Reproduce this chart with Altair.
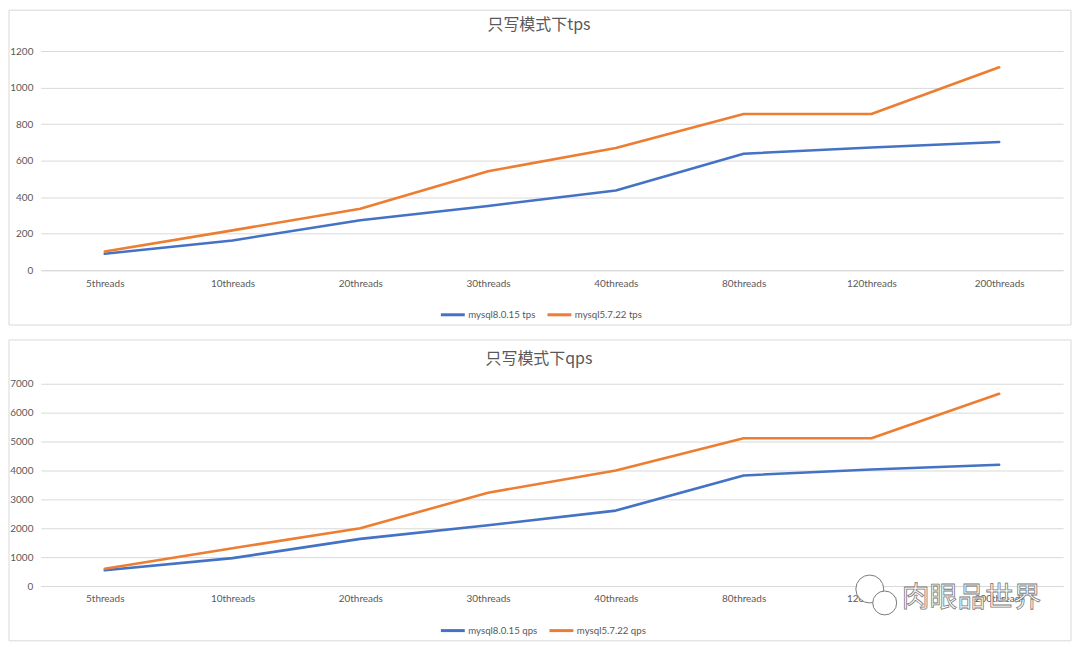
import altair as alt
import pandas as pd

categories = ["5threads", "10threads", "20threads", "30threads",
              "40threads", "80threads", "120threads", "200threads"]
tps_80 = [90, 163, 274, 352, 436, 638, 672, 702]
tps_57 = [102, 218, 336, 542, 669, 855, 855, 1111]
qps_80 = [545, 966, 1631, 2103, 2610, 3828, 4034, 4196]
qps_57 = [597, 1310, 2000, 3231, 4000, 5114, 5114, 6655]
tps_names = ["mysql8.0.15 tps", "mysql5.7.22 tps"]
qps_names = ["mysql8.0.15 qps", "mysql5.7.22 qps"]
titles = ["只写模式下tps", "只写模式下qps"]
colors = ["#4472C4", "#ED7D31"]
watermark = "肉眼品世界"

LABEL_FONT = "Lato"
CJK = "Noto Sans CJK SC"
GRAY = "#595959"
GRID = "#d9d9d9"
W = 1026


def long_df(names, a, b):
    rows = []
    for name, vals in zip(names, [a, b]):
        for c, v in zip(categories, vals):
            rows.append({"cat": c, "val": v, "series": name})
    return pd.DataFrame(rows)


def panel(df, names, title, ymax, step, h, fy0, fy1, ly, ty, extras=()):
    frame = alt.Chart(alt.Data(values=[{}])).mark_rect(
        fill="white", fillOpacity=0, stroke=GRID, strokeWidth=1
    ).encode(x=alt.value(-32), x2=alt.value(1034), y=alt.value(fy0), y2=alt.value(fy1))

    lines = alt.Chart(df).mark_line(strokeWidth=2.6, strokeCap="round", strokeJoin="round").encode(
        x=alt.X("cat:O", sort=categories,
                scale=alt.Scale(type="point", padding=0.5),
                axis=alt.Axis(title=None, labelAngle=0, ticks=False, domainColor=GRID,
                              labelPadding=8, grid=False)),
        y=alt.Y("val:Q", scale=alt.Scale(domain=[0, ymax], nice=False),
                axis=alt.Axis(title=None, values=list(range(0, ymax + 1, step)), format="d",
                              domain=False, ticks=False, gridColor=GRID, labelPadding=8)),
        color=alt.Color("series:N", sort=names,
                        scale=alt.Scale(domain=names, range=colors),
                        legend=alt.Legend(title=None, orient="none", legendX=400, legendY=ly,
                                          direction="horizontal", symbolType="stroke",
                                          symbolSize=576, symbolStrokeWidth=3,
                                          columnPadding=5, labelOffset=2)),
    )

    ttl = alt.Chart(alt.Data(values=[{"t": title}])).mark_text(
        fontSize=16, color=GRAY, font=CJK, baseline="middle", align="center"
    ).encode(text="t:N", x=alt.value(500), y=alt.value(ty))

    return alt.layer(frame, lines, ttl, *extras).properties(width=W, height=h)


top = panel(long_df(tps_names, tps_80, tps_57), tps_names, titles[0],
            1200, 200, 220, -41, 275, 251, -26)

bubble1 = alt.Chart(alt.Data(values=[{}])).mark_point(
    shape="circle", filled=True, fill="white", stroke="#7a7a7a", strokeWidth=1, opacity=1
).encode(x=alt.value(832), y=alt.value(206), size=alt.value(784))
bubble2 = alt.Chart(alt.Data(values=[{}])).mark_point(
    shape="circle", filled=True, fill="white", stroke="#7a7a7a", strokeWidth=1, opacity=1
).encode(x=alt.value(847), y=alt.value(220), size=alt.value(576))
wm = alt.Chart(alt.Data(values=[{"t": watermark}])).mark_text(
    fontSize=28, font=CJK, fill="white", stroke="#7a7a7a", strokeWidth=0.8,
    baseline="middle", align="center"
).encode(text="t:N", x=alt.value(934), y=alt.value(216))

bottom = panel(long_df(qps_names, qps_80, qps_57), qps_names, titles[1],
               7000, 1000, 203, -44, 258, 234, -25, extras=(bubble1, bubble2, wm))

chart = alt.vconcat(top, bottom, spacing=13).resolve_scale(
    color="independent", y="independent"
).resolve_legend(color="independent").properties(
    padding=0, background="white"
).configure_view(stroke=None).configure_axis(
    labelFont=LABEL_FONT, labelColor=GRAY, labelFontSize=10
).configure_legend(
    labelFont=LABEL_FONT, labelColor=GRAY, labelFontSize=9.7
)

chart.save("out.html", embed_options={"renderer": "svg", "actions": False})
